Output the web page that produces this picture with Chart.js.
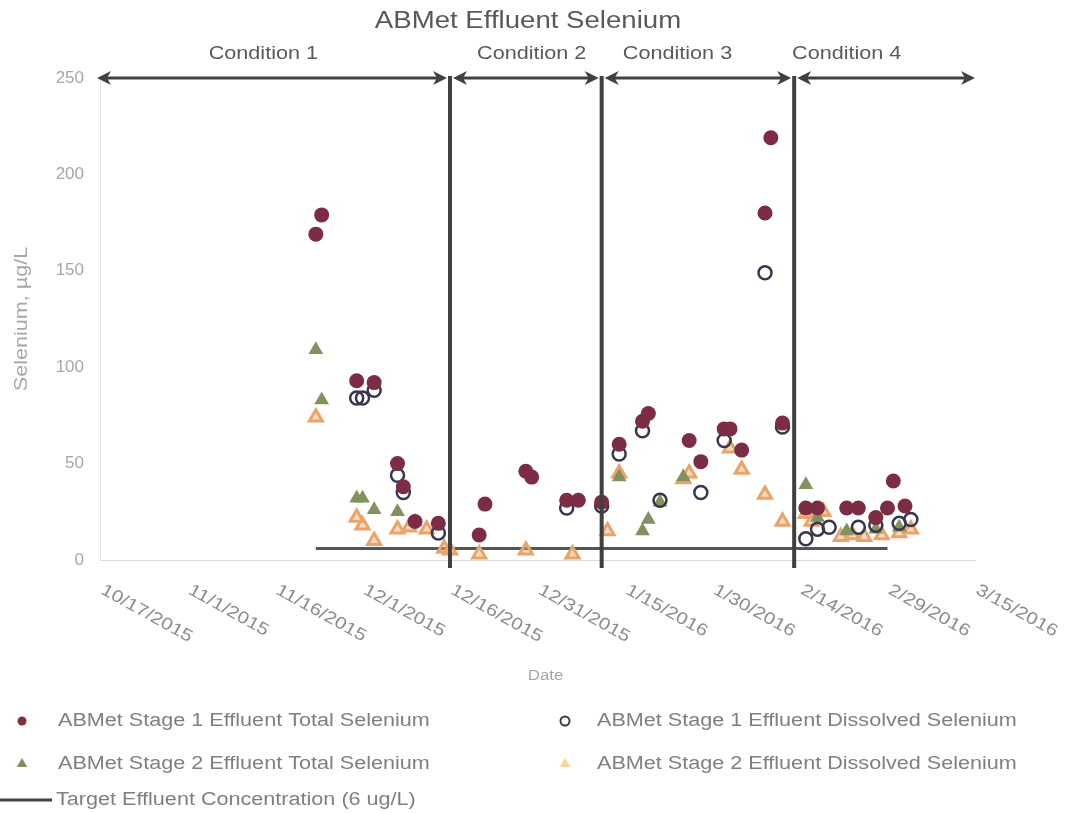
<!DOCTYPE html>
<html>
<head>
<meta charset="utf-8">
<script src="https://cdn.jsdelivr.net/npm/chart.js@4.4.1/dist/chart.umd.min.js"></script>
<style>
    html, body { margin: 0; padding: 0; background: #fff; }
    #wrap { width: 1068px; height: 813px; }
</style>
</head>
<body>
<div id="wrap"><canvas id="myChart" width="1068" height="813"></canvas></div>
<script>
// Axis
const startDate = '10/17/2015';
const endDate = '3/15/2016';
const xTickLabels = ['10/17/2015', '11/1/2015', '11/16/2015', '12/1/2015', '12/16/2015', '12/31/2015',
    '1/15/2016', '1/30/2016', '2/14/2016', '2/29/2016', '3/15/2016'];
const yTicks = [0, 50, 100, 150, 200, 250];

// Test conditions (boundaries between them)
const conditionNames = ['Condition 1', 'Condition 2', 'Condition 3', 'Condition 4'];
const conditionBounds = ['10/17/2015', '12/16/2015', '1/11/2016', '2/13/2016', '3/15/2016'];

// ABMet Stage 1 Effluent Total Selenium
const s1TotalDates = ['11/23/2015', '11/24/2015', '11/30/2015', '12/3/2015', '12/7/2015', '12/8/2015',
    '12/10/2015', '12/14/2015', '12/21/2015', '12/22/2015', '12/29/2015', '12/30/2015', '1/5/2016',
    '1/7/2016', '1/11/2016', '1/14/2016', '1/18/2016', '1/19/2016', '1/26/2016', '1/28/2016', '2/1/2016',
    '2/2/2016', '2/4/2016', '2/8/2016', '2/9/2016', '2/11/2016', '2/15/2016', '2/17/2016', '2/22/2016',
    '2/24/2016', '2/27/2016', '2/29/2016', '3/1/2016', '3/3/2016'];
const s1TotalValues = [169, 179, 93, 92, 50, 38, 20, 19, 13, 29, 46, 43, 31, 31, 30, 60, 72, 76, 62, 51, 68,
    68, 57, 180, 219, 71, 27, 27, 27, 27, 22, 27, 41, 28];

// ABMet Stage 1 Effluent Dissolved Selenium
const s1DissolvedDates = ['11/30/2015', '12/1/2015', '12/3/2015', '12/7/2015', '12/8/2015', '12/14/2015',
    '1/5/2016', '1/11/2016', '1/14/2016', '1/18/2016', '1/21/2016', '1/28/2016', '2/1/2016', '2/8/2016',
    '2/11/2016', '2/15/2016', '2/17/2016', '2/19/2016', '2/24/2016', '2/27/2016', '3/2/2016', '3/4/2016'];
const s1DissolvedValues = [84, 84, 88, 44, 35, 14, 27, 28, 55, 67, 31, 35, 62, 149, 69, 11, 16, 17, 17, 18,
    19, 21];

// ABMet Stage 2 Effluent Total Selenium
const s2TotalDates = ['11/23/2015', '11/24/2015', '11/30/2015', '12/1/2015', '12/3/2015', '12/7/2015',
    '12/10/2015', '1/14/2016', '1/18/2016', '1/19/2016', '1/21/2016', '1/25/2016', '2/15/2016', '2/17/2016',
    '2/22/2016', '2/27/2016', '3/2/2016'];
const s2TotalValues = [109, 83, 32, 32, 26, 25, 20, 43, 15, 21, 30, 43, 39, 22, 15, 16, 17];

// ABMet Stage 2 Effluent Dissolved Selenium
const s2DissolvedDates = ['11/23/2015', '11/30/2015', '12/1/2015', '12/3/2015', '12/7/2015', '12/9/2015',
    '12/12/2015', '12/15/2015', '12/16/2015', '12/21/2015', '12/29/2015', '1/6/2016', '1/12/2016',
    '1/14/2016', '1/25/2016', '1/26/2016', '2/2/2016', '2/4/2016', '2/8/2016', '2/11/2016', '2/15/2016',
    '2/16/2016', '2/18/2016', '2/21/2016', '2/23/2016', '2/25/2016', '2/28/2016', '3/2/2016', '3/4/2016'];
const s2DissolvedValues = [74, 22, 18, 10, 16, 17, 16, 6, 5, 3, 5, 3, 15, 45, 42, 45, 58, 47, 34, 20, 24,
    20, 25, 12, 13, 12, 13, 14, 16];

// Target Effluent Concentration (6 ug/L)
const targetDates = ['11/23/2015', '2/29/2016'];
const targetValues = [6, 6];

// Days since the first axis date
const dayNum = function (s) {
    const p = s.split('/').map(Number);
    const b = startDate.split('/').map(Number);
    return Math.round((Date.UTC(p[2], p[0] - 1, p[1]) - Date.UTC(b[2], b[0] - 1, b[1])) / 86400000);
};
const toPoints = function (dates, values) {
    return dates.map((d, i) => ({ x: dayNum(d), y: values[i] }));
};

const FONT = '"Liberation Sans", Arial, sans-serif';
const STRETCH = 1.2;

// text drawn a bit wider than the font, like the original
const wideText = function (ctx, text, x, y, size, color, align, rot) {
    ctx.save();
    ctx.font = size + 'px ' + FONT;
    ctx.fillStyle = color;
    ctx.textBaseline = 'middle';
    ctx.textAlign = align || 'left';
    ctx.translate(x, y);
    if (rot) ctx.rotate(rot);
    ctx.scale(STRETCH, 1);
    ctx.fillText(text, 0, 0);
    ctx.restore();
};

const triangle = function (ctx, x, y, r) {
    ctx.beginPath();
    ctx.moveTo(x, y - r);
    ctx.lineTo(x + r * 0.87, y + r * 0.5);
    ctx.lineTo(x - r * 0.87, y + r * 0.5);
    ctx.closePath();
};

/*
    Condition arrows, boundary lines, titles, rotated date labels and legend
*/
const decorations = {
    id: 'decorations',
    afterDatasetsDraw(chart) {
        const ctx = chart.ctx;
        const xs = chart.scales.x;
        const ys = chart.scales.y;
        const area = chart.chartArea;
        const topY = ys.getPixelForValue(250);

        // boundary lines
        ctx.save();
        ctx.strokeStyle = '#404040';
        ctx.lineWidth = 4;
        for (let i = 1; i < conditionBounds.length - 1; i++) {
            const px = xs.getPixelForValue(dayNum(conditionBounds[i]));
            ctx.beginPath();
            ctx.moveTo(px, topY - 2);
            ctx.lineTo(px, area.bottom + 8);
            ctx.stroke();
        }

        // double arrows
        ctx.fillStyle = '#404040';
        ctx.lineWidth = 3;
        const head = function (x, dir) {
            ctx.beginPath();
            ctx.moveTo(x, topY);
            ctx.lineTo(x - dir * 14, topY - 7);
            ctx.lineTo(x - dir * 10, topY);
            ctx.lineTo(x - dir * 14, topY + 7);
            ctx.closePath();
            ctx.fill();
        };
        for (let i = 0; i < conditionNames.length; i++) {
            let x1 = xs.getPixelForValue(dayNum(conditionBounds[i])) + (i === 0 ? -3 : 3);
            let x2 = xs.getPixelForValue(dayNum(conditionBounds[i + 1])) - (i === conditionNames.length - 1 ? 0 : 3);
            ctx.beginPath();
            ctx.moveTo(x1 + 8, topY);
            ctx.lineTo(x2 - 8, topY);
            ctx.stroke();
            head(x1, -1);
            head(x2, 1);
        }
        ctx.restore();

        // condition labels
        const labelAt = ['11/14/2015', '12/30/2015', '1/24/2016', '2/22/2016'];
        conditionNames.forEach((name, i) => {
            wideText(ctx, name, xs.getPixelForValue(dayNum(labelAt[i])), 54, 18, '#595959', 'center');
        });

        // title
        wideText(ctx, 'ABMet Effluent Selenium', 528, 22, 23, '#595959', 'center');

        // rotated x tick labels
        xTickLabels.forEach(lbl => {
            const px = xs.getPixelForValue(dayNum(lbl));
            wideText(ctx, lbl, px + 2, area.bottom + 29, 17, '#8c8c8c', 'left', 29 * Math.PI / 180);
        });

        // axis titles
        wideText(ctx, 'Date', (area.left + area.right) / 2 + 8, 676, 14, '#a6a6a6', 'center');
        wideText(ctx, 'Selenium, µg/L', 22, (area.top + area.bottom) / 2, 18, '#a6a6a6', 'center', -Math.PI / 2);

        // legend
        const legendColor = '#7f7f7f';
        ctx.save();
        ctx.fillStyle = '#86303f';
        ctx.beginPath();
        ctx.arc(22, 721, 4.5, 0, Math.PI * 2);
        ctx.fill();
        ctx.fillStyle = '#7f8f5a';
        triangle(ctx, 22, 764, 6);
        ctx.fill();
        ctx.strokeStyle = '#3a3a4a';
        ctx.lineWidth = 2;
        ctx.beginPath();
        ctx.arc(565, 721, 4.5, 0, Math.PI * 2);
        ctx.stroke();
        ctx.fillStyle = '#f5d79a';
        triangle(ctx, 565, 764, 6);
        ctx.fill();
        ctx.strokeStyle = '#404040';
        ctx.lineWidth = 3;
        ctx.beginPath();
        ctx.moveTo(0, 800);
        ctx.lineTo(52, 800);
        ctx.stroke();
        ctx.restore();
        wideText(ctx, 'ABMet Stage 1 Effluent Total Selenium', 58, 721, 18, legendColor);
        wideText(ctx, 'ABMet Stage 2 Effluent Total Selenium', 58, 764, 18, legendColor);
        wideText(ctx, 'ABMet Stage 1 Effluent Dissolved Selenium', 597, 721, 18, legendColor);
        wideText(ctx, 'ABMet Stage 2 Effluent Dissolved Selenium', 597, 764, 18, legendColor);
        wideText(ctx, 'Target Effluent Concentration (6 ug/L)', 56, 800, 18, legendColor);
    }
};

const ctx = document.getElementById('myChart').getContext('2d');
const myChart = new Chart(ctx, {
    type: 'scatter',
    data: {
        datasets: [{
            label: 'ABMet Stage 1 Effluent Total Selenium',
            data: toPoints(s1TotalDates, s1TotalValues),
            pointStyle: 'circle',
            pointRadius: 7.5,
            backgroundColor: '#7c2d44',
            borderColor: '#7c2d44',
            borderWidth: 0
        }, {
            label: 'ABMet Stage 1 Effluent Dissolved Selenium',
            data: toPoints(s1DissolvedDates, s1DissolvedValues),
            pointStyle: 'circle',
            pointRadius: 6.5,
            backgroundColor: 'rgba(255,255,255,0)',
            borderColor: '#363650',
            borderWidth: 2.5
        }, {
            label: 'ABMet Stage 2 Effluent Total Selenium',
            data: toPoints(s2TotalDates, s2TotalValues),
            pointStyle: 'triangle',
            pointRadius: 8.5,
            backgroundColor: '#82925d',
            borderColor: '#82925d',
            borderWidth: 0
        }, {
            label: 'ABMet Stage 2 Effluent Dissolved Selenium',
            data: toPoints(s2DissolvedDates, s2DissolvedValues),
            pointStyle: 'triangle',
            pointRadius: 7.5,
            backgroundColor: 'rgba(238,170,110,0.45)',
            borderColor: '#e9a46a',
            borderWidth: 3
        }, {
            type: 'line',
            label: 'Target Effluent Concentration (6 ug/L)',
            data: toPoints(targetDates, targetValues),
            borderColor: '#555555',
            borderWidth: 3,
            pointRadius: 0,
            showLine: true,
            fill: false
        }]
    },
    options: {
        responsive: false,
        animation: false,
        layout: { padding: { top: 78, right: 93, bottom: 0, left: 0 } },
        plugins: {
            legend: { display: false },
            tooltip: { enabled: false }
        },
        scales: {
            x: {
                type: 'linear',
                min: dayNum(startDate),
                max: dayNum(endDate),
                grid: { display: false },
                border: { color: '#d9d9d9', width: 1 },
                ticks: { display: false, stepSize: 15 },
                afterFit: function (scale) { scale.height = 253; }
            },
            y: {
                min: 0,
                max: 250,
                grid: { display: false },
                border: { color: '#e3e3e3', width: 1 },
                afterBuildTicks: function (scale) { scale.ticks = yTicks.map(v => ({ value: v })); },
                ticks: {
                    padding: 8,
                    color: '#a6a6a6',
                    font: { family: FONT, size: 17 }
                },
                afterFit: function (scale) { scale.width = 100; }
            }
        }
    },
    plugins: [decorations]
});
</script>
</body>
</html>
